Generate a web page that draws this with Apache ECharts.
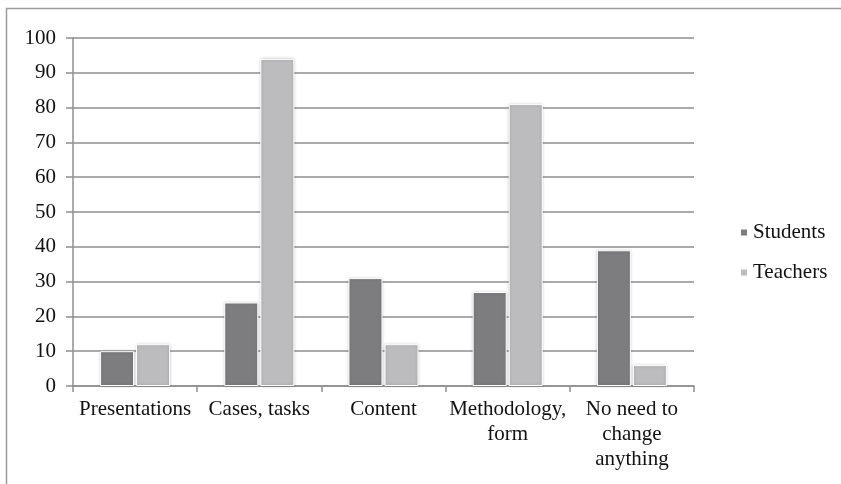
<!DOCTYPE html>
<html>
<head>
<meta charset="utf-8">
<script src="https://cdn.jsdelivr.net/npm/echarts@6/dist/echarts.min.js"></script>
<style>
  html, body { margin: 0; padding: 0; background: #fff; }
  #chart { width: 841px; height: 484px; }
</style>
</head>
<body>
<div id="chart"></div>
<script>
// Survey answers: what should change, by respondent group
const categories = ['Presentations', 'Cases, tasks', 'Content', 'Methodology,\nform', 'No need to\nchange\nanything'];
const students = [10, 24, 31, 27, 39];
const teachers = [12, 94, 12, 81, 6];
const yTicks = { min: 0, max: 100, interval: 10 };

const FONT = 'Liberation Serif';
const GRID_COLOR = '#8e8e8e';

// Every canvas label uses the serif face, whatever family reaches the context
(function () {
  const proto = CanvasRenderingContext2D.prototype;
  const desc = Object.getOwnPropertyDescriptor(proto, 'font');
  if (desc && desc.set) {
    Object.defineProperty(proto, 'font', {
      configurable: true,
      get: function () { return desc.get.call(this); },
      set: function (v) {
        desc.set.call(this, String(v).replace(/sans-serif|Microsoft YaHei/g, '"Liberation Serif"'));
      }
    });
  }
})();

const chart = echarts.init(document.getElementById('chart'));

function barSeries(name, data, color) {
  return {
    name: name,
    type: 'bar',
    data: data,
    barWidth: 34,
    barGap: '6%',
    itemStyle: {
      color: color,
      borderColor: '#ffffff',
      borderWidth: 1,
      shadowBlur: 3,
      shadowColor: 'rgba(0,0,0,0.22)',
      shadowOffsetX: 0,
      shadowOffsetY: 0
    }
  };
}

chart.setOption({
  animation: false,
  backgroundColor: '#ffffff',
  textStyle: { fontFamily: FONT },
  graphic: [{
    type: 'rect',
    shape: { x: 6.5, y: 8.5, width: 900, height: 600 },
    style: { fill: 'none', stroke: '#9a9a9a', lineWidth: 1.5 },
    silent: true,
    z: -1
  }],
  grid: { left: 73, top: 38, right: 147, bottom: 98 },
  legend: {
    orient: 'vertical',
    left: 734,
    top: 217,
    itemWidth: 8,
    itemHeight: 8,
    itemGap: 19,
    icon: 'rect',
    textStyle: { fontFamily: FONT, fontSize: 21, color: '#111' },
    data: ['Students', 'Teachers']
  },
  xAxis: {
    type: 'category',
    data: categories,
    axisLine: { lineStyle: { color: GRID_COLOR, width: 1.5 } },
    axisTick: { show: true, length: 6, lineStyle: { color: GRID_COLOR, width: 1.5 } },
    axisLabel: {
      fontFamily: FONT, fontSize: 21, color: '#111',
      lineHeight: 25, margin: 11, interval: 0
    }
  },
  yAxis: {
    type: 'value',
    min: yTicks.min,
    max: yTicks.max,
    interval: yTicks.interval,
    axisLine: { show: true, lineStyle: { color: GRID_COLOR, width: 1.5 } },
    axisTick: { show: true, length: 7, lineStyle: { color: GRID_COLOR, width: 1.5 } },
    axisLabel: { fontFamily: FONT, fontSize: 21, color: '#111', margin: 17 },
    splitLine: { lineStyle: { color: GRID_COLOR, width: 1.5 } }
  },
  series: [
    barSeries('Students', students, '#7d7d80'),
    barSeries('Teachers', teachers, '#bcbcbf')
  ]
});
</script>
</body>
</html>
